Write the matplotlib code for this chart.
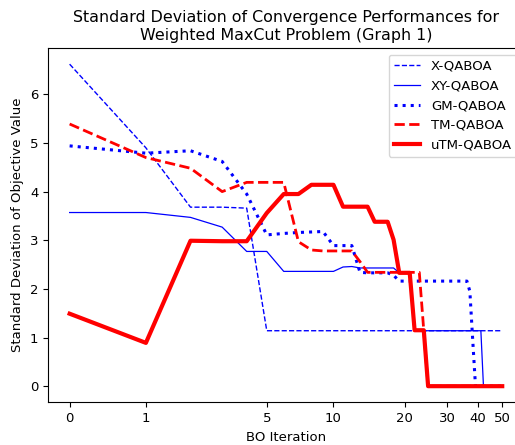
import numpy as np
import matplotlib
matplotlib.use("Agg")
import matplotlib.pyplot as plt

plt.rcParams['font.size'] = 9.5

# BO iterations 0..50
iters = list(range(0, 51))

x_qaoa = [6.62, 4.90, 3.68, 3.68, 3.66, 1.14, 1.14, 1.14, 1.14, 1.14,
          1.14, 1.14, 1.14, 1.14, 1.14, 1.14, 1.14, 1.14, 1.14, 1.14,
          1.14, 1.14, 1.14, 1.14, 1.14, 1.14, 1.14, 1.14, 1.14, 1.14,
          1.14, 1.14, 1.14, 1.14, 1.14, 1.14, 1.14, 1.14, 1.14, 1.14,
          1.14, 1.14, 1.14, 1.14, 1.14, 1.14, 1.14, 1.14, 1.14, 1.14,
          1.14]

xy_qaoa = [3.57, 3.57, 3.47, 3.27, 2.77, 2.77, 2.36, 2.36, 2.36, 2.36,
           2.36, 2.45, 2.46, 2.43, 2.43, 2.43, 2.43, 2.43, 2.43, 2.33,
           2.33, 2.33, 1.14, 1.14, 1.14, 1.14, 1.14, 1.14, 1.14, 1.14,
           1.14, 1.14, 1.14, 1.14, 1.14, 1.14, 1.14, 1.14, 1.14, 1.14,
           1.14, 1.14, 0.0, 0.0, 0.0, 0.0, 0.0, 0.0, 0.0, 0.0,
           0.0]

gm_qaoa = [4.94, 4.79, 4.84, 4.62, 3.95, 3.11, 3.14, 3.16, 3.17, 3.18,
           2.89, 2.89, 2.89, 2.34, 2.33, 2.33, 2.33, 2.33, 2.28, 2.16,
           2.16, 2.16, 2.16, 2.16, 2.16, 2.16, 2.16, 2.16, 2.16, 2.16,
           2.16, 2.16, 2.16, 2.16, 2.16, 2.16, 2.16, 1.95, 0.95, 0.0,
           0.0, 0.0, 0.0, 0.0, 0.0, 0.0, 0.0, 0.0, 0.0, 0.0,
           0.0]

tm_qaoa = [5.39, 4.70, 4.48, 4.00, 4.19, 4.19, 4.19, 2.97, 2.80, 2.78,
           2.78, 2.78, 2.78, 2.56, 2.34, 2.34, 2.34, 2.34, 2.34, 2.34,
           2.34, 2.34, 2.34, 2.34, 1.14, 0.0, 0.0, 0.0, 0.0, 0.0,
           0.0, 0.0, 0.0, 0.0, 0.0, 0.0, 0.0, 0.0, 0.0, 0.0,
           0.0, 0.0, 0.0, 0.0, 0.0, 0.0, 0.0, 0.0, 0.0, 0.0,
           0.0]

utm_qaoa = [1.49, 0.89, 2.99, 2.98, 2.98, 3.56, 3.95, 3.95, 4.14, 4.14,
            4.14, 3.69, 3.69, 3.69, 3.69, 3.38, 3.38, 3.38, 3.01, 2.33,
            2.33, 2.33, 1.15, 1.15, 1.15, 0.0, 0.0, 0.0, 0.0, 0.0,
            0.0, 0.0, 0.0, 0.0, 0.0, 0.0, 0.0, 0.0, 0.0, 0.0,
            0.0, 0.0, 0.0, 0.0, 0.0, 0.0, 0.0, 0.0, 0.0, 0.0,
            0.0]

xticks = [0, 1, 5, 10, 20, 30, 40, 50]

fig = plt.figure(figsize=(5.15, 4.45), dpi=100)
ax = fig.add_axes([0.0932, 0.096, 0.924, 0.796])

ax.plot(iters, x_qaoa, 'b--', lw=1, label='X-QABOA')
ax.plot(iters, xy_qaoa, 'b-', lw=0.9, label='XY-QABOA')
ax.plot(iters, gm_qaoa, 'b:', lw=2.2, label='GM-QABOA')
ax.plot(iters, tm_qaoa, 'r--', lw=2, label='TM-QABOA')
ax.plot(iters, utm_qaoa, 'r-', lw=3, label='uTM-QABOA')

# log(x+1) axis so iteration 0 can be shown
ax.set_xscale('function', functions=(np.log1p, np.expm1))
ax.set_xticks(xticks)
ax.set_xticklabels([str(t) for t in xticks])
ax.minorticks_off()

ax.set_title('Standard Deviation of Convergence Performances for\nWeighted MaxCut Problem (Graph 1)')
ax.set_xlabel('BO Iteration')
ax.set_ylabel('Standard Deviation of Objective Value')
ax.legend(loc='upper right')

fig.savefig('out.png', dpi=100)
